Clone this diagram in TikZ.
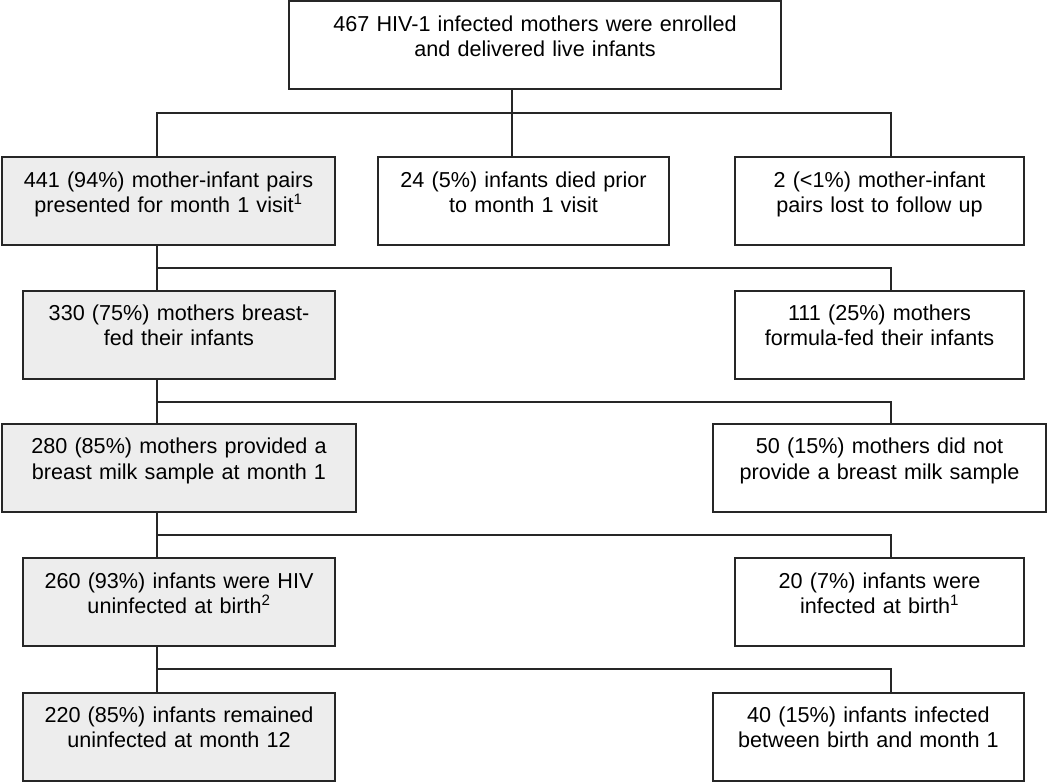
\documentclass[tikz,border=0pt]{standalone}
\usepackage{fontspec}
\setmainfont{Liberation Sans}
\begin{document}
\begin{tikzpicture}[
  x=1pt, y=-1pt,
  box/.style={draw=black!85, line width=2pt, fill=white, align=center, text width=#1,
    inner xsep=0pt, inner ysep=0pt, text height=30pt, text depth=58pt,
    font=\fontsize{21.6}{25}\selectfont},
  gbox/.style={box=#1, fill=black!7},
  link/.style={draw=black!85, line width=2pt}
]
\useasboundingbox (0,0) rectangle (1050,783);

\node[box=492pt] (enrol) at (535,45.5) {467 HIV-1 infected mothers were enrolled\\and delivered live infants};

\node[gbox=333pt] (pairs) at (168.5,201.5) {441 (94\%) mother-infant pairs\\presented for month 1 visit\textsuperscript{1}};
\node[box=291pt] (died) at (523.5,201.5) {24 (5\%) infants died prior\\to month 1 visit};
\node[box=289pt] (lost) at (879.5,201.5) {2 (<1\%) mother-infant\\pairs lost to follow up};

\node[gbox=312pt] (breastfed) at (179,335) {330 (75\%) mothers breast-\\fed their infants};
\node[box=289pt] (formula) at (879.5,335) {111 (25\%) mothers\\formula-fed their infants};

\node[gbox=354pt] (sample) at (179,468) {280 (85\%) mothers provided a\\breast milk sample at month 1};
\node[box=333pt] (nosample) at (879.5,468) {50 (15\%) mothers did not\\provide a breast milk sample};

\node[gbox=312pt] (uninf) at (179,602) {260 (93\%) infants were HIV\\uninfected at birth\textsuperscript{2}};
\node[box=289pt] (infbirth) at (879.5,602) {20 (7\%) infants were\\infected at birth\textsuperscript{1}};

\node[gbox=312pt] (remained) at (179,736.5) {220 (85\%) infants remained\\uninfected at month 12};
\node[box=311pt] (infm1) at (868.5,736.5) {40 (15\%) infants infected\\between birth and month 1};

\coordinate (lt) at (157,0);
\coordinate (rt) at (891,0);
\coordinate (j1) at (512,113);

\draw[link] (j1 |- enrol.south) -- (j1 |- died.north);
\draw[link] (lt |- pairs.north) |- (rt |- j1) -- (rt |- lost.north);

\foreach \up/\down/\side/\yy in {pairs/breastfed/formula/268, breastfed/sample/nosample/402,
    sample/uninf/infbirth/535, uninf/remained/infm1/669} {
  \draw[link] (lt |- \up.south) -- (lt |- \down.north);
  \draw[link] (157,\yy) -| (rt |- \side.north);
}
\end{tikzpicture}
\end{document}
